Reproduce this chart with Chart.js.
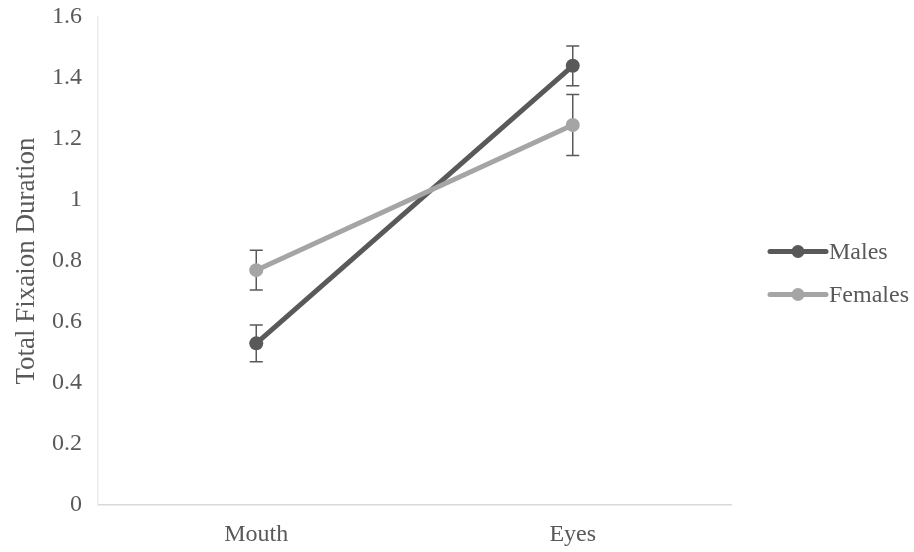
<!DOCTYPE html>
<html>
<head>
<meta charset="utf-8">
<script src="https://cdn.jsdelivr.net/npm/chart.js@4.4.1/dist/chart.umd.min.js"></script>
<style>
  html, body { margin: 0; padding: 0; background: #ffffff; }
  #wrap { width: 914px; height: 552px; position: relative; }
</style>
</head>
<body>
<div id="wrap"><canvas id="chart" width="914" height="552"></canvas></div>
<script>
// Fixation duration by face region, split by group
const categories = ['Mouth', 'Eyes'];
const seriesNames = ['Males', 'Females'];
const malesValues = [0.53, 1.44];
const femalesValues = [0.77, 1.246];
const malesErrors = [0.06, 0.065];
const femalesErrors = [0.065, 0.10];
const yTicks = [0, 0.2, 0.4, 0.6, 0.8, 1, 1.2, 1.4, 1.6];

const seriesColors = ['#595959', '#A5A5A5'];
const errorColor = '#595959';
const textColor = '#595959';
const fontFamily = '"Liberation Serif", "Times New Roman", serif';

const errorsBySeries = [malesErrors, femalesErrors];

// Symmetric error bars with caps, drawn beneath the lines and markers
const errorBars = {
  id: 'errorBars',
  beforeDatasetsDraw(chart) {
    const ctx = chart.ctx;
    const x = chart.scales.x, y = chart.scales.y;
    ctx.save();
    ctx.strokeStyle = errorColor;
    ctx.lineWidth = 1.5;
    chart.data.datasets.forEach((ds, di) => {
      const errs = errorsBySeries[di];
      ds.data.forEach((v, i) => {
        const px = x.getPixelForValue(i);
        const top = y.getPixelForValue(v + errs[i]);
        const bot = y.getPixelForValue(v - errs[i]);
        const cap = 6.5;
        ctx.beginPath();
        ctx.moveTo(px, top); ctx.lineTo(px, bot);
        ctx.moveTo(px - cap, top); ctx.lineTo(px + cap, top);
        ctx.moveTo(px - cap, bot); ctx.lineTo(px + cap, bot);
        ctx.stroke();
      });
    });
    ctx.restore();
  }
};

// Legend to the right: line sample with a marker in its middle, then the name
const sideLegend = {
  id: 'sideLegend',
  afterDraw(chart) {
    const ctx = chart.ctx;
    const area = chart.chartArea;
    const midY = (area.top + area.bottom) / 2 + 12;
    const startX = area.right + 39;
    const sampleLen = 56;
    const gap = 43;
    ctx.save();
    seriesNames.forEach((name, i) => {
      const yy = midY - gap / 2 + i * gap;
      ctx.strokeStyle = seriesColors[i];
      ctx.lineWidth = 5;
      ctx.lineCap = 'round';
      ctx.beginPath();
      ctx.moveTo(startX, yy);
      ctx.lineTo(startX + sampleLen, yy);
      ctx.stroke();
      ctx.fillStyle = seriesColors[i];
      ctx.beginPath();
      ctx.arc(startX + sampleLen / 2, yy, 6.5, 0, Math.PI * 2);
      ctx.fill();
      ctx.fillStyle = textColor;
      ctx.font = '24px ' + fontFamily;
      ctx.textBaseline = 'middle';
      ctx.textAlign = 'left';
      ctx.fillText(name, startX + sampleLen + 3, yy + 1);
    });
    ctx.restore();
  }
};

const ctx = document.getElementById('chart').getContext('2d');
new Chart(ctx, {
  type: 'line',
  data: {
    labels: categories,
    datasets: [
      {
        label: seriesNames[0],
        data: malesValues,
        borderColor: seriesColors[0],
        backgroundColor: seriesColors[0],
        borderWidth: 5,
        pointRadius: 7,
        pointHoverRadius: 7,
        pointBorderWidth: 0,
        order: 2
      },
      {
        label: seriesNames[1],
        data: femalesValues,
        borderColor: seriesColors[1],
        backgroundColor: seriesColors[1],
        borderWidth: 5,
        pointRadius: 7,
        pointHoverRadius: 7,
        pointBorderWidth: 0,
        order: 1
      }
    ]
  },
  options: {
    responsive: false,
    animation: false,
    events: [],
    layout: { padding: { top: 17, right: 183, left: 0, bottom: 0 } },
    plugins: {
      legend: { display: false },
      tooltip: { enabled: false }
    },
    scales: {
      x: {
        offset: true,
        grid: { display: false, drawTicks: false },
        border: { display: true, color: '#D9D9D9', width: 1.5 },
        ticks: {
          color: textColor,
          font: { family: fontFamily, size: 24 },
          padding: 15
        },
        afterFit(scale) { scale.height = 47; }
      },
      y: {
        min: 0,
        max: 1.6,
        afterBuildTicks(scale) { scale.ticks = yTicks.map(v => ({ value: v })); },
        grid: { display: false, drawTicks: false },
        border: { display: true, color: '#EFEBDF', width: 1.5 },
        ticks: {
          color: textColor,
          font: { family: fontFamily, size: 24 },
          padding: 16,
          callback: v => String(Number(v.toFixed(1)))
        },
        title: {
          display: true,
          text: 'Total Fixaion Duration',
          color: textColor,
          font: { family: fontFamily, size: 27 },
          padding: { top: 11, bottom: 0 }
        },
        afterFit(scale) {
          scale.width = 98;
          scale.paddingTop = 0;
          scale.paddingBottom = 0;
        }
      }
    }
  },
  plugins: [errorBars, sideLegend]
});
</script>
</body>
</html>
